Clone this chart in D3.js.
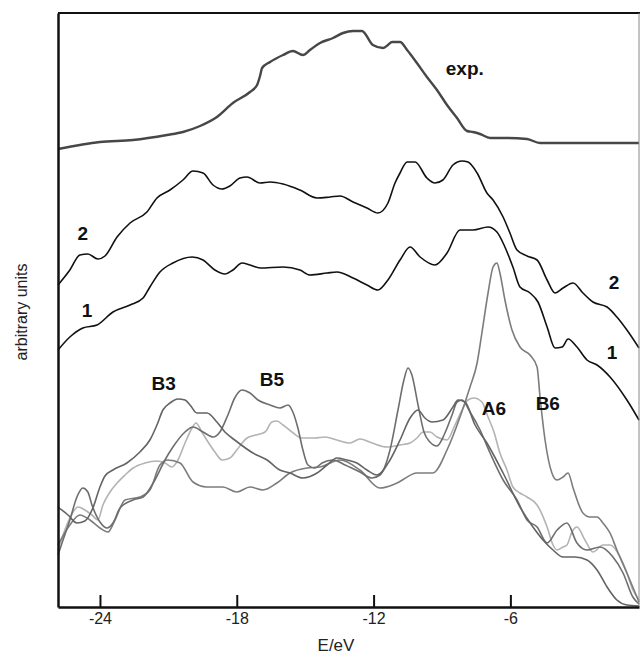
<!DOCTYPE html>
<html>
<head>
<meta charset="utf-8">
<script src="https://cdn.jsdelivr.net/npm/d3@7"></script>
<style>
  html, body { margin: 0; padding: 0; background: #fff; }
  svg { display: block; font-family: "Liberation Sans", Arial, sans-serif; }
</style>
</head>
<body>
<svg id="chart" width="640" height="660"></svg>
<script>
// ---- Data: [energy (eV), intensity (arbitrary units)] ----
const xTicks = [-24, -18, -12, -6];

const expSpectrum = [
  [-25.84,458],[-24.00,465],[-22.55,467],[-21.06,472],[-20.36,475],[-19.61,481],[-18.87,490],
  [-18.17,504],[-17.42,515],[-17.11,522],[-16.98,531],[-16.89,539],[-16.54,545],[-15.97,552],
  [-15.54,556],[-15.10,552],[-14.79,557],[-14.35,564],[-13.78,569],[-13.34,574],[-12.90,576],
  [-12.51,576],[-12.03,562],[-11.59,559],[-11.37,562],[-11.19,565],[-10.84,565],[-10.53,557],
  [-10.10,544],[-9.66,530],[-9.22,517],[-8.78,502],[-8.34,489],[-7.90,476],[-7.64,475],
  [-7.33,473],[-6.89,469],[-6.15,469],[-5.27,468],[-4.70,464],[-0.36,464]
];

const calc2 = [
  [-25.84,322],[-25.32,337],[-24.88,352],[-24.53,353],[-24.09,348],[-23.78,351],[-23.25,370],
  [-22.68,384],[-21.94,395],[-21.50,409],[-20.93,417],[-20.36,427],[-19.92,436],[-19.48,434],
  [-19.04,422],[-18.65,418],[-18.30,421],[-17.86,429],[-17.55,430],[-16.98,424],[-16.54,425],
  [-15.97,423],[-15.23,417],[-14.48,409],[-13.91,410],[-13.47,411],[-12.90,405],[-12.29,399],
  [-11.81,394],[-11.37,404],[-11.06,424],[-10.84,434],[-10.53,445],[-10.18,445],[-9.66,429],
  [-9.31,424],[-8.96,427],[-8.52,442],[-8.12,446],[-7.86,445],[-7.46,434],[-7.03,414],
  [-6.76,407],[-6.32,390],[-6.02,374],[-5.71,357],[-5.27,351],[-4.83,347],[-4.39,327],
  [-4.04,314],[-3.69,319],[-3.25,324],[-2.82,314],[-2.38,305],[-1.76,300],[-1.33,290],
  [-0.89,277],[-0.36,259]
];

const calc1 = [
  [-25.84,257],[-25.32,270],[-24.75,279],[-24.13,282],[-23.43,295],[-22.68,302],[-22.11,309],
  [-21.81,320],[-21.37,335],[-20.80,344],[-19.96,350],[-19.48,347],[-18.96,337],[-18.52,333],
  [-18.17,337],[-17.77,344],[-17.42,342],[-16.98,339],[-15.97,340],[-15.23,337],[-14.79,332],
  [-14.04,334],[-13.61,335],[-12.90,329],[-12.29,322],[-11.81,317],[-11.37,327],[-10.84,347],
  [-10.40,360],[-9.96,350],[-9.31,342],[-8.78,354],[-8.21,377],[-7.64,377],[-6.98,380],
  [-6.59,375],[-6.24,360],[-5.89,340],[-5.58,320],[-5.14,314],[-4.79,305],[-4.39,280],
  [-4.04,259],[-3.73,260],[-3.47,268],[-3.08,260],[-2.64,247],[-2.20,242],[-1.63,230],
  [-0.89,207],[-0.36,187]
];

const B3 = [
  [-25.84,100],[-25.40,92],[-25.01,84],[-24.66,86],[-24.31,99],[-24.00,120],[-23.78,131],
  [-23.43,137],[-22.82,144],[-22.25,155],[-21.81,167],[-21.50,182],[-21.24,197],[-20.93,204],
  [-20.58,208],[-20.27,207],[-20.05,202],[-19.75,194],[-19.31,194],[-18.87,185],[-18.52,175],
  [-18.09,167],[-17.29,154],[-16.67,147],[-16.11,137],[-15.67,134],[-15.10,129],[-14.48,134],
  [-14.04,142],[-13.61,149],[-13.17,147],[-12.73,144],[-12.29,137],[-11.85,132],[-11.28,147],
  [-10.84,167],[-10.40,189],[-10.05,197],[-9.75,189],[-9.44,185],[-8.96,187],[-8.52,200],
  [-8.30,207],[-7.99,205],[-7.55,182],[-7.03,164],[-6.32,134],[-5.58,100],[-5.01,80],
  [-4.57,67],[-4.13,57],[-3.69,50],[-3.17,50],[-2.64,47],[-2.20,37],[-1.76,20],[-1.33,7],
  [-0.89,2],[-0.36,1]
];

const B5 = [
  [-25.84,52],[-25.62,67],[-25.32,87],[-25.01,110],[-24.75,119],[-24.53,115],[-24.35,102],
  [-24.00,85],[-23.69,79],[-23.43,84],[-23.12,99],[-22.55,107],[-22.11,110],[-21.59,127],
  [-21.15,147],[-20.80,160],[-20.27,175],[-19.92,180],[-19.48,175],[-19.04,170],[-18.74,175],
  [-18.39,192],[-18.09,209],[-17.77,217],[-17.42,214],[-17.07,207],[-16.54,202],[-16.11,199],
  [-15.75,202],[-15.54,195],[-15.32,179],[-15.10,157],[-14.88,142],[-14.57,139],[-14.26,144],
  [-13.78,147],[-13.25,142],[-12.60,135],[-12.07,129],[-11.72,132],[-11.28,157],[-10.93,197],
  [-10.67,227],[-10.49,239],[-10.32,232],[-10.05,202],[-9.79,175],[-9.53,165],[-9.22,161],
  [-8.87,174],[-8.56,192],[-8.34,205],[-8.12,207],[-7.77,195],[-7.33,177],[-6.89,154],
  [-6.32,127],[-5.71,107],[-5.27,87],[-4.83,80],[-4.39,64],[-3.95,77],[-3.52,84],[-3.08,64],
  [-2.64,57],[-2.07,60],[-1.50,50],[-1.06,34],[-0.63,10],[-0.36,3]
];

const B6 = [
  [-25.84,62],[-25.32,82],[-24.88,92],[-24.44,87],[-24.00,79],[-23.65,75],[-23.34,87],
  [-22.90,107],[-22.25,110],[-21.81,117],[-21.37,142],[-21.02,147],[-20.49,144],[-19.92,125],
  [-19.31,120],[-18.61,120],[-18.00,115],[-17.42,120],[-16.85,117],[-16.24,124],[-15.67,134],
  [-14.92,139],[-14.35,140],[-13.47,147],[-12.60,137],[-11.72,119],[-10.97,124],[-10.10,134],
  [-9.40,134],[-8.78,157],[-8.21,190],[-7.77,220],[-7.46,244],[-7.25,274],[-6.98,314],
  [-6.76,340],[-6.59,344],[-6.46,334],[-6.24,307],[-5.93,277],[-5.58,260],[-5.14,252],
  [-4.83,240],[-4.70,210],[-4.48,167],[-4.18,134],[-3.96,127],[-3.69,130],[-3.47,134],
  [-3.25,119],[-2.82,94],[-2.51,90],[-2.20,90],[-1.94,84],[-1.63,74],[-1.33,57],[-0.89,34],
  [-0.45,10],[-0.36,5]
];

const A6 = [
  [-25.84,57],[-25.62,72],[-25.32,89],[-24.96,100],[-24.66,97],[-24.35,92],[-24.09,87],
  [-23.87,102],[-23.56,115],[-23.25,124],[-22.90,132],[-22.55,139],[-22.03,144],[-21.50,146],
  [-21.15,144],[-20.84,140],[-20.58,147],[-20.27,164],[-19.96,179],[-19.79,184],[-19.53,175],
  [-19.26,165],[-18.96,155],[-18.65,147],[-18.30,149],[-18.00,157],[-17.55,169],[-17.16,172],
  [-16.76,175],[-16.46,185],[-16.24,186],[-15.97,182],[-15.58,175],[-15.14,169],[-14.57,169],
  [-14.13,170],[-13.61,167],[-13.04,164],[-12.60,168],[-12.07,164],[-11.41,160],[-10.84,162],
  [-10.40,164],[-10.10,169],[-9.83,175],[-9.53,175],[-9.22,170],[-8.78,167],[-8.43,182],
  [-8.12,197],[-7.86,207],[-7.60,209],[-7.25,205],[-6.98,190],[-6.72,175],[-6.46,154],
  [-6.15,137],[-5.89,120],[-5.58,114],[-5.27,110],[-4.83,102],[-4.39,80],[-4.13,62],
  [-3.96,57],[-3.69,60],[-3.52,62],[-3.30,75],[-3.08,80],[-2.73,67],[-2.38,55],[-1.94,62],
  [-1.63,62],[-1.19,50],[-0.89,34],[-0.63,17],[-0.36,7]
];

// ---- Layout ----
const svg = d3.select("#chart");
const L = 58, R = 639, T = 13, B = 607;

const x = d3.scaleLinear().domain([-25.84, -0.36]).range([L, R]);
const y = d3.scaleLinear().domain([0, 594]).range([B, T]);

const line = d3.line()
  .x(d => x(d[0]))
  .y(d => y(d[1]))
  .curve(d3.curveMonotoneX);

const series = [
  { data: A6,  color: "#b3b3b3", width: 1.6 },
  { data: B6,  color: "#7c7c7c", width: 1.6 },
  { data: B5,  color: "#6e6e6e", width: 1.6 },
  { data: B3,  color: "#646464", width: 1.6 },
  { data: calc1, color: "#111111", width: 1.6 },
  { data: calc2, color: "#111111", width: 1.6 },
  { data: expSpectrum, color: "#474747", width: 2.4 }
];

const plot = svg.append("g");
series.forEach(s => {
  plot.append("path")
    .datum(s.data)
    .attr("fill", "none")
    .attr("stroke", s.color)
    .attr("stroke-width", s.width)
    .attr("stroke-linejoin", "round")
    .attr("d", line);
});

// frame: top and right
svg.append("line").attr("x1", L).attr("x2", R + 1).attr("y1", T).attr("y2", T)
  .attr("stroke", "#111").attr("stroke-width", 2);
svg.append("line").attr("x1", R).attr("x2", R).attr("y1", T).attr("y2", B)
  .attr("stroke", "#888").attr("stroke-width", 1);

// x axis
const xAxis = d3.axisBottom(x)
  .tickValues(xTicks)
  .tickFormat(d => String(d))
  .tickSizeInner(-12)
  .tickSizeOuter(0)
  .tickPadding(6);

const gx = svg.append("g").attr("transform", `translate(0,${B})`).call(xAxis);
gx.select(".domain").attr("stroke", "#111").attr("stroke-width", 2.5);
gx.selectAll(".tick line").attr("stroke", "#111").attr("stroke-width", 2);
gx.selectAll(".tick text")
  .attr("fill", "#222")
  .style("font-size", "16px")
  .style("font-family", "'Liberation Sans', Arial, sans-serif");

// y axis (no ticks)
const yAxis = d3.axisLeft(y).tickValues([]).tickSizeOuter(0);
const gy = svg.append("g").attr("transform", `translate(${L},0)`).call(yAxis);
gy.select(".domain").attr("stroke", "#111").attr("stroke-width", 2.5);

// axis titles
svg.append("text")
  .attr("x", 336).attr("y", 651)
  .attr("text-anchor", "middle")
  .attr("fill", "#222")
  .style("font-size", "17px")
  .text("E/eV");

svg.append("text")
  .attr("transform", "translate(27,312) rotate(-90)")
  .attr("text-anchor", "middle")
  .attr("fill", "#222")
  .style("font-size", "16px")
  .text("arbitrary units");

// curve labels
const labels = [
  { t: "exp.", e: -8.0,  v: 539 },
  { t: "2",   e: -24.75, v: 374 },
  { t: "1",   e: -24.57, v: 297 },
  { t: "2",   e: -1.45,  v: 325 },
  { t: "1",   e: -1.54,  v: 255 },
  { t: "B3",  e: -21.21, v: 224 },
  { t: "B5",  e: -16.46, v: 228 },
  { t: "A6",  e: -6.72,  v: 199 },
  { t: "B6",  e: -4.36,  v: 204 }
];
svg.append("g").selectAll("text")
  .data(labels)
  .join("text")
  .attr("x", d => x(d.e))
  .attr("y", d => y(d.v))
  .attr("text-anchor", "middle")
  .attr("dominant-baseline", "central")
  .attr("fill", "#111")
  .style("font-size", "19px")
  .style("font-weight", "bold")
  .text(d => d.t);
</script>
</body>
</html>
